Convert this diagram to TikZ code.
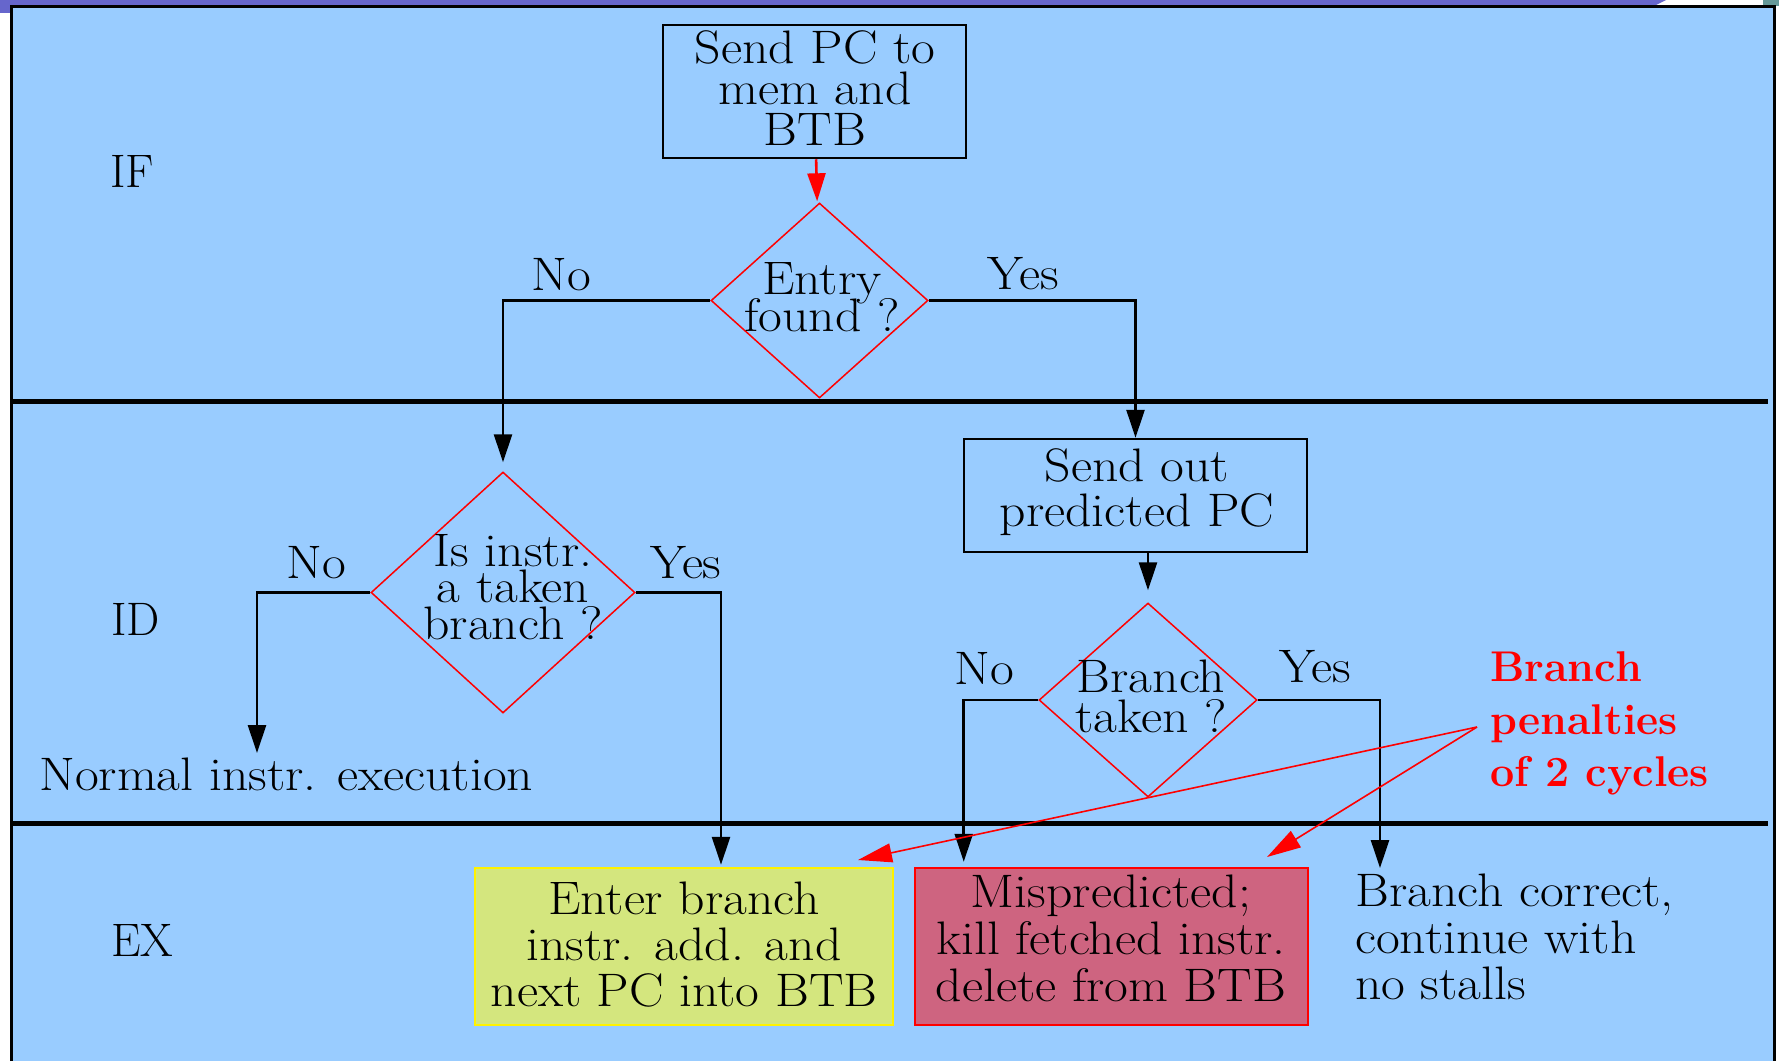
\documentclass[tikz,border=0pt]{standalone}
\usetikzlibrary{shapes.geometric,arrows.meta}
\definecolor{panelblue}{HTML}{99CCFF}
\definecolor{barpurple}{HTML}{6666CC}
\definecolor{tabteal}{HTML}{669999}
\definecolor{yellowfill}{HTML}{D4E67E}
\definecolor{redfill}{HTML}{CE6480}
% wide setting of the serif text: line stacks at the exact \baselineskip, stretched 10% sideways
\newcommand{\widec}[1]{\scalebox{1.1}[1]{\vbox{\let\\\cr\lineskiplimit=-100pt\relax
  \halign{\hfil##\hfil\cr#1\crcr}}}}
\newcommand{\widel}[1]{\scalebox{1.1}[1]{\vbox{\let\\\cr\lineskiplimit=-100pt\relax
  \halign{##\hfil\cr#1\crcr}}}}
\newcommand{\wideone}[1]{\scalebox{1.1}[1]{#1}}
\begin{document}
\begin{tikzpicture}[x=1pt,y=-1pt,
  boxtxt/.style={inner sep=0pt},
  box/.style={draw=black, line width=2.5pt, inner sep=0pt},
  dia/.style={diamond, draw=red, line width=1.5pt, inner sep=0pt},
  flow/.style={draw=black, line width=2.6pt, -{Triangle[length=28pt,width=18pt]}},
  note/.style={draw=red, line width=1.6pt, -{Triangle[length=34pt,width=19pt]}},
  lbl/.style={inner sep=0pt, anchor=base west, font=\fontsize{47}{47}\selectfont},
  divider/.style={draw=black, line width=5pt}
]
\useasboundingbox (0,0) rectangle (1779,1061);

% window frame and panel
\fill[barpurple] (0,0) -- (1666,0) -- (1654,6) -- (0,6) -- cycle;
\fill[barpurple] (0,0) rectangle (11,13);
\fill[tabteal] (1763,0) rectangle (1779,6);
\fill[panelblue] (11,6) rectangle (1774,1061);
\draw[line width=3pt] (11,1061) -- (11,6) -- (1774,6) -- (1774,1061);

% pipeline stage separators
\draw[divider] (11,401) -- (1768,401);
\draw[divider] (11,823.5) -- (1768,823.5);

% stage names
\node[lbl] (stIF) at (110,187) {IF};
\node[lbl] (stID) at (111,635) {ID};
\node[lbl] (stEX) at (111,956) {EX};

% IF stage
\node[box, minimum width=303, minimum height=133] (sendpc) at (814.5,91.5) {};
\node[boxtxt, font=\fontsize{47}{41}\selectfont] (sendpc-t) at (815,88) {\widec{Send PC to\\mem and\\BTB}};
\node[dia, minimum width=217, minimum height=195] (entry) at (819.5,300.5) {};
\node[boxtxt, font=\fontsize{47}{37}\selectfont] (entry-t) at (822,297) {\widec{Entry\\found ?}};
\node[lbl] (entry-no) at (531,290) {\wideone{No}};
\node[lbl] (entry-yes) at (987,289) {\wideone{Yes}};

% ID stage, left branch
\node[dia, minimum width=264, minimum height=241] (taken) at (503,592.5) {};
\node[boxtxt, font=\fontsize{47}{36.5}\selectfont] (taken-t) at (513,587) {\widec{Is instr.\\a taken\\branch ?}};
\node[lbl] (taken-no) at (286,578) {\wideone{No}};
\node[lbl] (taken-yes) at (650,578) {\wideone{Yes}};
\node[lbl] (normal) at (39,790) {\wideone{Normal instr. execution}};
\coordinate (normtip) at (257,753);

% ID stage, right branch
\node[box, minimum width=343, minimum height=113] (predict) at (1135.5,495.5) {};
\node[boxtxt, font=\fontsize{47}{45}\selectfont] (predict-t) at (1137,492.5) {\widec{Send out\\predicted PC}};
\node[dia, minimum width=218, minimum height=194] (branch) at (1148,700) {};
\node[boxtxt, font=\fontsize{47}{40}\selectfont] (branch-t) at (1151,696.5) {\widec{Branch\\taken ?}};
\node[lbl] (branch-no) at (954,684) {\wideone{No}};
\node[lbl] (branch-yes) at (1279,682) {\wideone{Yes}};

% EX stage outcomes
\node[draw=yellow, fill=yellowfill, line width=2.5pt, inner sep=0pt,
      minimum width=418, minimum height=157] (enter) at (684,946.5) {};
\node[boxtxt, font=\fontsize{47}{46}\selectfont] (enter-t) at (684,944.5) {\widec{Enter branch\\instr. add. and\\next PC into BTB}};
\node[draw=red, fill=redfill, line width=2.5pt, inner sep=0pt,
      minimum width=393, minimum height=157] (kill) at (1111.5,946.5) {};
\node[boxtxt, font=\fontsize{47}{47}\selectfont] (kill-t) at (1111,938.5) {\widec{Mispredicted;\\kill fetched instr.\\delete from BTB}};
\node[inner sep=0pt, anchor=west, font=\fontsize{47}{46.5}\selectfont] (correct) at (1355,937) {\widel{Branch correct,\\continue with\\no stalls}};
\coordinate (corrtip) at (1380,868);

% penalty annotation
\node[inner sep=0pt, anchor=west, align=left, text=red, font=\fontsize{43}{52.5}\selectfont\bfseries] (penalty) at (1490,723.5) {Branch\\penalties\\of 2 cycles};
\coordinate (penfrom) at (1477,727);
\coordinate (pentipA) at (858,860);
\coordinate (pentipB) at (1267,857);

% connectors
\draw[flow, draw=red, shorten >=3pt] (sendpc) -- (entry);
\draw[flow, shorten >=9pt] (entry.west) -| (taken.north);
\draw[flow] (entry.east) -| (predict.north);
\draw[flow, shorten >=12pt] (predict.south -| branch.north) -- (branch.north);
\draw[flow] (taken.west) -| (normtip);
\draw[flow, shorten >=2pt] (taken.east) -| ([xshift=37pt]enter.north);
\draw[flow, shorten >=5pt] (branch.west) -| ([xshift=50pt]kill.north west);
\draw[flow] (branch.east) -| (corrtip);
\draw[note] (penfrom) -- (pentipA);
\draw[note] (penfrom) -- (pentipB);
\end{tikzpicture}
\end{document}
